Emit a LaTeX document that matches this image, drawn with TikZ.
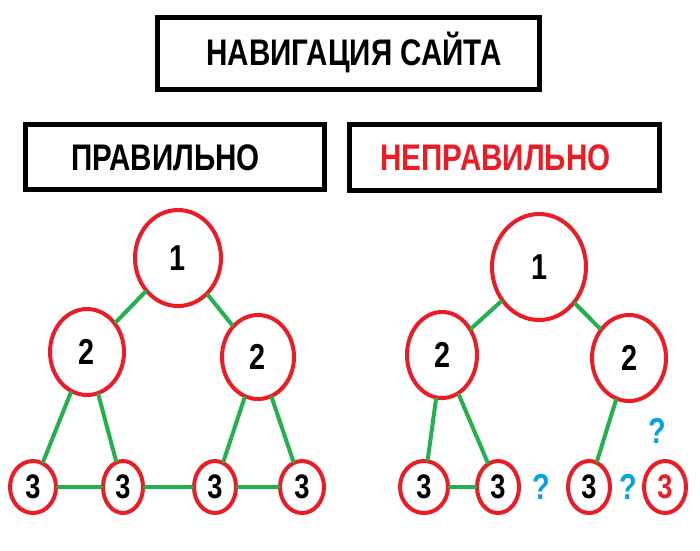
\documentclass[tikz,border=0pt]{standalone}
\usepackage{fontspec}
\setmainfont{Liberation Sans}
\newfontfamily\narrow{Liberation Sans}[FakeStretch=0.8]
\usepackage{tikz}
\usetikzlibrary{shapes.geometric}
\definecolor{nodered}{RGB}{237,28,36}
\definecolor{edgegreen}{RGB}{34,177,76}
\definecolor{askblue}{RGB}{0,162,232}

\begin{document}
\begin{tikzpicture}[x=1pt,y=-1pt,line cap=round,
  frame/.style={draw,line width=5pt,inner sep=0pt},
  heading/.style={anchor=base,font=\narrow\bfseries\fontsize{37}{40}\selectfont},
  page/.style={ellipse,draw=nodered,line width=4pt,inner sep=0pt,
    font=\narrow\bfseries\fontsize{36}{38}\selectfont},
  leaf/.style={page,minimum height=52pt,font=\narrow\bfseries\fontsize{34}{36}\selectfont},
  link/.style={draw=edgegreen,line width=4pt},
  ask/.style={text=askblue,font=\narrow\bfseries\fontsize{36}{38}\selectfont}]
  \useasboundingbox (0,0) rectangle (700,550);
  % Title and the two column headings.
  \node[frame,minimum width=382pt,minimum height=72pt] (titlebox) at (348.5,53.5) {};
  \node[heading] (title) at (354,65) {НАВИГАЦИЯ САЙТА};
  \node[frame,minimum width=299pt,minimum height=65pt] (goodbox) at (175,157) {};
  \node[heading] (good) at (165.5,170) {ПРАВИЛЬНО};
  \node[frame,minimum width=310pt,minimum height=66pt] (badbox) at (504.5,157.5) {};
  \node[heading,text=nodered] (bad) at (495.5,170) {НЕПРАВИЛЬНО};
  % Left tree: every page linked.
  \node[page,minimum width=86pt,minimum height=96pt] (L1) at (178,258) {1};
  \node[page,minimum width=74pt,minimum height=86pt] (L2a) at (87,352) {2};
  \node[page,minimum width=72pt,minimum height=84pt] (L2b) at (258,357) {2};
  \foreach \name/\x/\w in {L3a/33/46,L3b/123/40,L3c/215/42,L3d/302/44}
    \node[leaf,minimum width=\w pt] (\name) at (\x,487) {3};
  \foreach \a/\b in {L1/L2a,L1/L2b,L2a/L3a,L2a/L3b,L2b/L3c,L2b/L3d,L3a/L3b,L3b/L3c,L3c/L3d}
    \draw[link] (\a) -- (\b);
  % Right tree: broken links.
  \node[page,minimum width=94pt,minimum height=106pt] (R1) at (539,267) {1};
  \node[page,minimum width=70pt,minimum height=86pt] (R2a) at (442,355) {2};
  \node[page,minimum width=74pt,minimum height=86pt] (R2b) at (629,358) {2};
  \foreach \name/\x/\w in {R3a/424/48,R3b/498/42,R3c/589/42}
    \node[leaf,minimum width=\w pt] (\name) at (\x,487) {3};
  \node[leaf,minimum width=42pt,text=nodered] (R3d) at (665,487) {3};
  \foreach \a/\b in {R1/R2a,R1/R2b,R2a/R3a,R2a/R3b,R2b/R3c,R3a/R3b}
    \draw[link] (\a) -- (\b);
  \node[ask] (q1) at (541,487) {?};
  \node[ask] (q2) at (628,487) {?};
  \node[ask] (q3) at (657,431) {?};
\end{tikzpicture}
\end{document}
